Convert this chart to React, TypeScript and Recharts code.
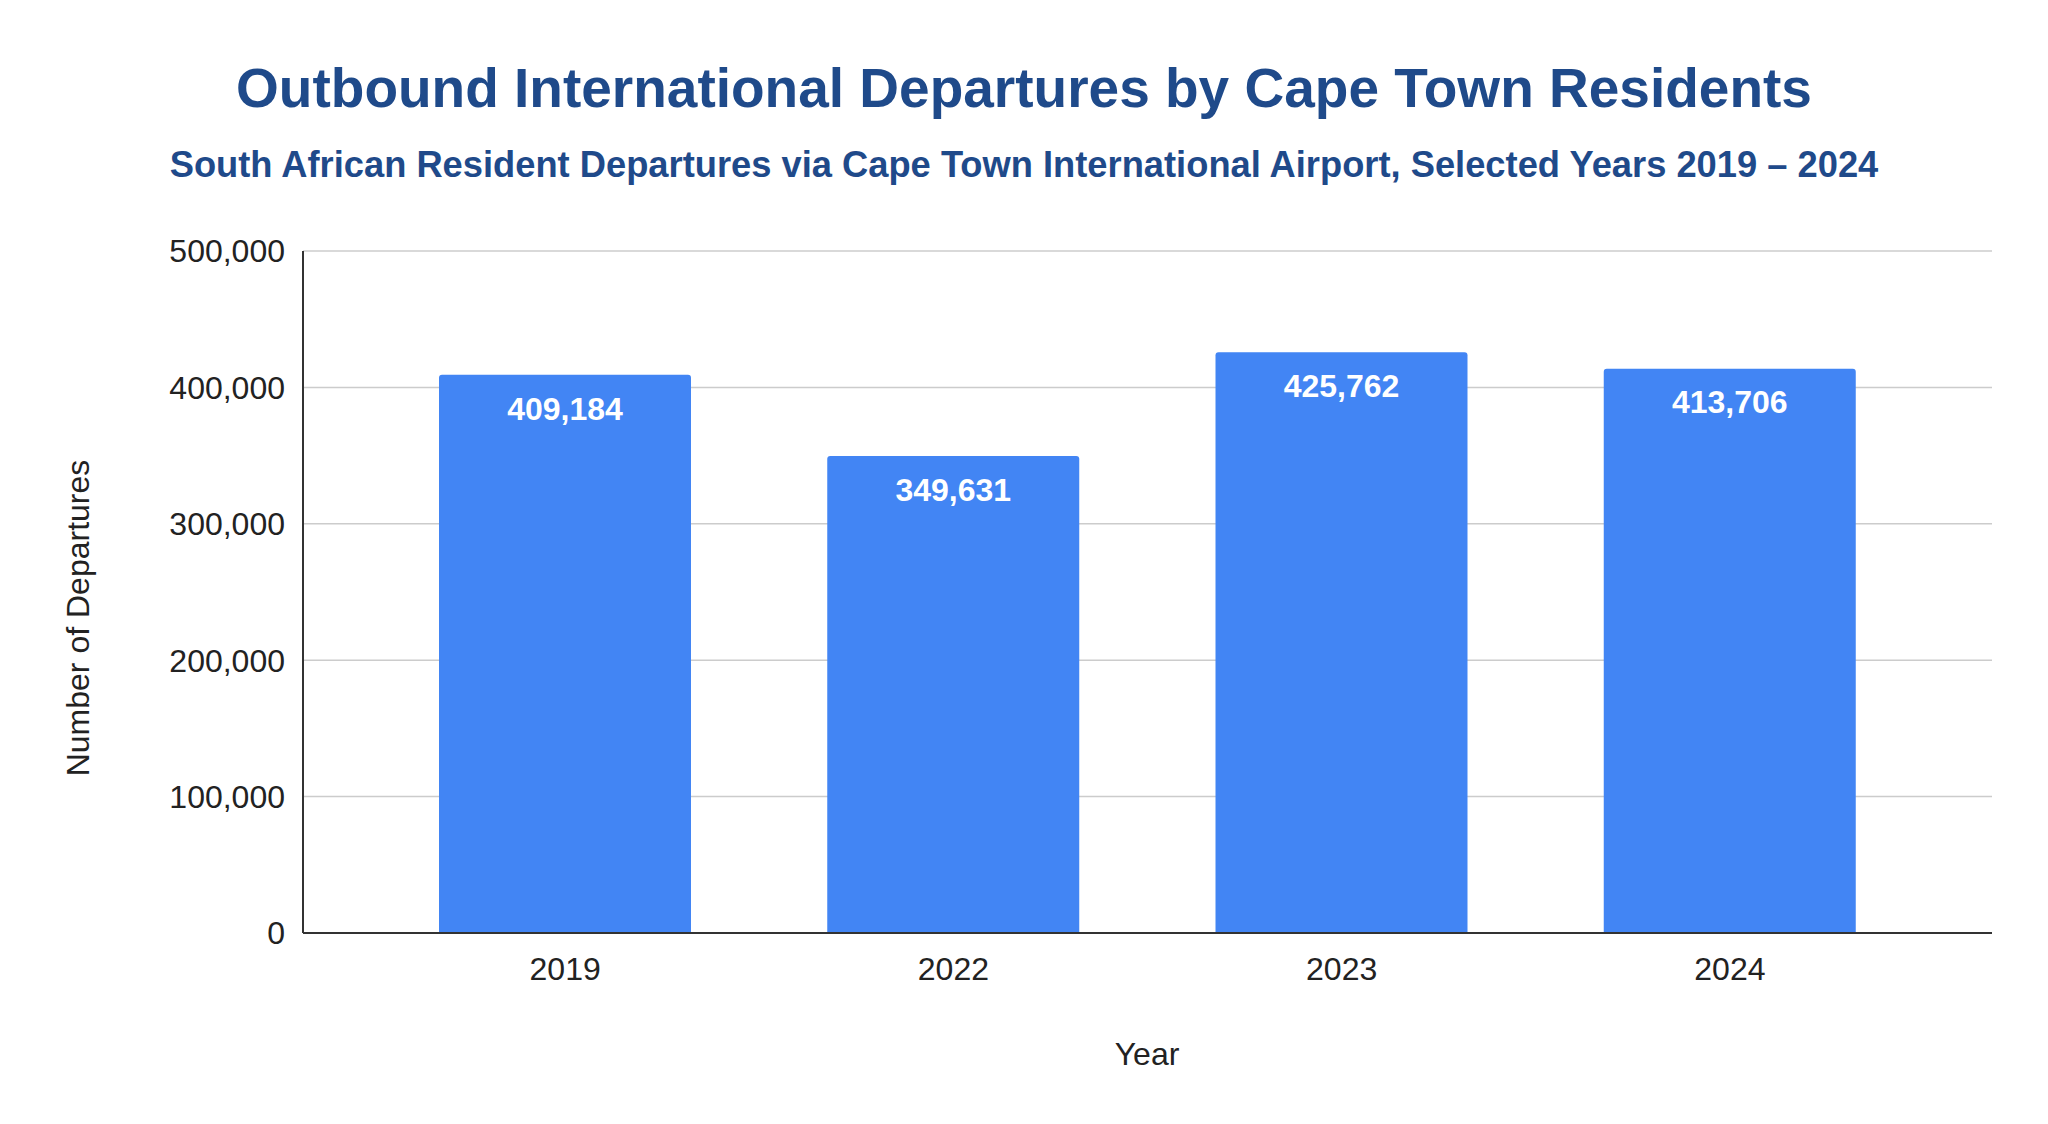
import { BarChart, Bar, XAxis, YAxis, CartesianGrid, LabelList } from "recharts";

const years = ["2019", "2022", "2023", "2024"];
const departures = [409184, 349631, 425762, 413706];
const yTicks = [0, 100000, 200000, 300000, 400000, 500000];

const chartData = years.map((year, i) => ({ year, departures: departures[i] }));

const FONT = "Arial, 'Liberation Sans', sans-serif";
const TITLE_BLUE = "#1f4a8a";
const fmt = (v: number) => v.toLocaleString("en-US");

const YTitle = () => (
  <text
    x={78}
    y={618}
    transform="rotate(-90 78 618)"
    textAnchor="middle"
    dominantBaseline="central"
    fontFamily={FONT}
    fontSize={32}
    fill="#222"
  >
    Number of Departures
  </text>
);

const XTitle = () => (
  <text x={1147} y={1065} textAnchor="middle" fontFamily={FONT} fontSize={32} fill="#222">
    Year
  </text>
);

export default function App() {
  return (
    <div style={{ position: "absolute", left: 0, top: 0, width: 2048, height: 1124, background: "#fff", fontFamily: FONT }}>
      <div
        style={{
          position: "absolute",
          top: 61,
          left: 0,
          width: 2048,
          textAlign: "center",
          fontSize: 55,
          lineHeight: "55px",
          fontWeight: 700,
          color: TITLE_BLUE,
        }}
      >
        Outbound International Departures by Cape Town Residents
      </div>
      <div
        style={{
          position: "absolute",
          top: 147,
          left: 0,
          width: 2048,
          textAlign: "center",
          fontSize: 36.3,
          lineHeight: "36px",
          fontWeight: 700,
          color: TITLE_BLUE,
        }}
      >
        South African Resident Departures via Cape Town International Airport, Selected Years 2019 – 2024
      </div>
      <BarChart
        width={2048}
        height={1124}
        data={chartData}
        margin={{ top: 251, right: 56, left: 203, bottom: 161 }}
      >
        <CartesianGrid vertical={false} stroke="#cccccc" strokeWidth={1.5} />
        <XAxis
          dataKey="year"
          height={30}
          padding={{ left: 68, right: 68 }}
          tickLine={false}
          tickSize={0}
          tickMargin={24}
          axisLine={{ stroke: "#333", strokeWidth: 2 }}
          tick={{ fontSize: 32, fill: "#222", fontFamily: FONT }}
          label={{ content: XTitle }}
        />
        <YAxis
          width={100}
          domain={[0, 500000]}
          ticks={yTicks}
          tickFormatter={fmt}
          tickLine={false}
          tickSize={0}
          tickMargin={18}
          axisLine={{ stroke: "#333", strokeWidth: 2 }}
          tick={{ fontSize: 32, fill: "#222", fontFamily: FONT }}
          label={{ content: YTitle }}
        />
        <Bar dataKey="departures" fill="#4285f4" barSize={252} radius={[3, 3, 0, 0]} isAnimationActive={false}>
          <LabelList
            dataKey="departures"
            position="insideTop"
            offset={22}
            formatter={(v: any) => fmt(Number(v))}
            fill="#ffffff"
            fontSize={32}
            fontWeight={700}
            fontFamily={FONT}
          />
        </Bar>
      </BarChart>
    </div>
  );
}
